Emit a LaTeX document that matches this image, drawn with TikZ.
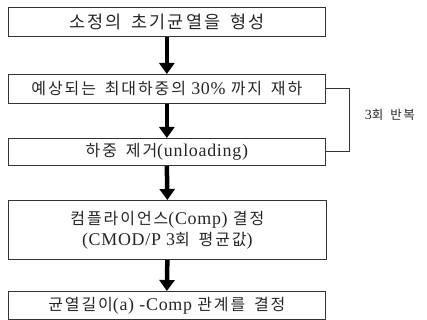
\documentclass[tikz,border=0pt]{standalone}
\usepackage{fontspec}
\setmainfont{Liberation Serif}[Scale=1.12, LetterSpace=4]
\newfontfamily\kr{Noto Sans CJK KR}[LetterSpace=12, WordSpace=1.6]
\usetikzlibrary{arrows.meta}
\begin{document}
\begin{tikzpicture}[x=1pt,y=-1pt,
  box/.style={draw=black!80, line width=0.7pt, rectangle, inner sep=0pt,
              anchor=north west, minimum width=317pt, align=center,
              text=black!85, font=\fontsize{16}{21}\selectfont},
  flow/.style={line width=4.5pt, draw=black,
               -{Triangle[width=15pt,length=11pt]}, shorten <=0.5pt},
  link/.style={draw=black!80, line width=0.7pt}
]
\useasboundingbox (0,0) rectangle (427,320);

\node[box, minimum height=29pt, font=\fontsize{17.5}{22}\selectfont] (b1) at (8,7)
  {\kr 소정의 초기균열을 형성};
\node[box, minimum height=29pt] (b2) at (8,74)
  {{\kr 예상되는 최대하중의} 30\% {\kr 까지 재하}};
\node[box, minimum height=27pt] (b3) at (8,138)
  {{\kr 하중 제거}(unloading)};
\node[box, minimum height=59pt, minimum width=318pt] (b4) at (8,200)
  {{\kr 컴플라이언스}(Comp) {\kr 결정}\\(CMOD/P 3{\kr 회 평균값})};
\node[box, minimum height=28pt] (b5) at (8,291)
  {{\kr 균열길이}(a) -Comp {\kr 관계를 결정}};

\draw[flow] (b1.south) -- (b2.north);
\draw[flow] (b2.south) -- (b3.north);
\draw[flow] (b3.south) -- (b4.north);
\draw[flow] (b4.south) -- (b5.north);

\draw[link] (b2.east) -- ++(24,0) coordinate (br) |- (b3.east);
\node[font=\fontsize{12.5}{14}\selectfont, text=black!85, anchor=west] (rep) at (361,115)
  {3{\kr 회 반복}};
\end{tikzpicture}
\end{document}
